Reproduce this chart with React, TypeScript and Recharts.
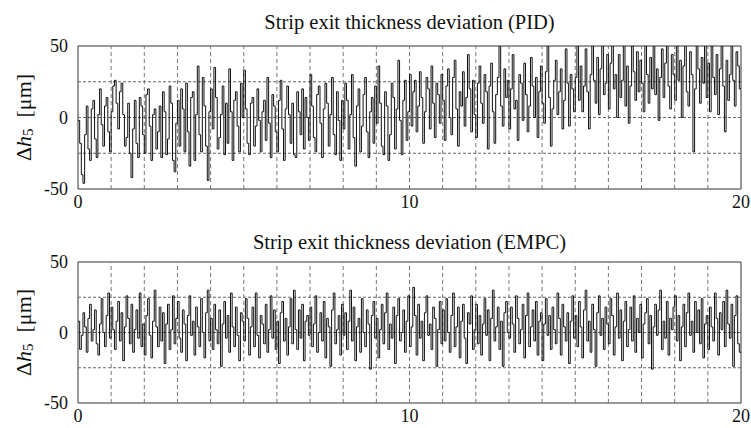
import { LineChart, Line, XAxis, YAxis, ReferenceLine, ReferenceArea } from "recharts";

// sample time of the recorded signal [s]
const DT = 0.05;

const xTicks = [0, 10, 20];
const yTicks = [-50, 0, 50];
const xGrid = [1, 2, 3, 4, 5, 6, 7, 8, 9, 10, 11, 12, 13, 14, 15, 16, 17, 18, 19];
const yGrid = [-25, 0, 25];

// PID, t = 0..5
const pidSeg1 = [
  -2, -18, -40, -46, -12, 8, -22, -30, 6, 12, -15, -28, 2, 20, -5, -20, 8, 14, -10, -24,
  4, 22, 26, 10, -8, 18, 24, 2, -20, -14, 10, -25, -42, -8, 12, -18, -28, 14, 8, -12,
  -25, 16, 20, -6, -30, 2, 6, -22, -10, 8, -28, 18, 4, -26, -15, 22, 10, -30, -38, -4,
  12, -20, 20, 6, -24, 24, -10, -34, 14, 18, -30, 2, 36, -12, -24, 28, 8, -20, -44, 4,
  20, -8, 35, 14, -22, -14, 2, 22, -26, 10, -18, 34, 4, -30, 12, 18, -6, -24, 24, 0,
];
// PID, t = 5..10
const pidSeg2 = [
  33, 6, -18, -26, 10, 14, -20, -6, 20, -2, -24, 4, 12, -16, 28, -4, -28, 16, 8, -10,
  -24, 12, 26, -8, -30, 6, 22, 2, -18, 10, -26, -28, 18, 4, -12, 20, -22, 14, 0, -16,
  30, 8, -14, -24, 16, 22, -4, -28, 6, 24, 10, -20, 2, 28, -12, -26, 18, -2, -30, 12,
  -8, 24, 12, -22, 2, 30, -14, -34, 8, 20, -24, -6, 16, 28, -10, -28, 4, 14, -18, 22,
  -4, 36, 10, -20, -26, 18, 8, -30, -12, 24, 14, -22, 6, 40, -2, -26, 12, 26, -16, 4,
];
// PID, t = 10..15
const pidSeg3 = [
  30, -6, 18, 26, -10, 8, 32, 14, -18, 4, 28, 20, -8, 36, 10, -14, 24, 16, -4, 30,
  12, -16, 22, 34, 0, -12, 28, 40, 6, -20, 18, 8, 32, -6, 14, 44, 20, -10, 26, 2,
  -14, 24, 36, 10, -4, 30, 18, -22, 22, 38, 4, -18, 16, 28, 54, 8, -6, 34, 14, 26,
  -8, 20, 44, 6, 12, -16, 30, 24, -2, 38, 16, -10, 8, 42, 22, 0, 28, -14, 18, 36,
  10, -4, 32, 56, 14, -20, 6, 26, 40, 2, 18, 34, -8, 12, 48, 24, -6, 30, 20, 4,
];
// PID, t = 15..20
const pidSeg4 = [
  28, 55, 12, 36, 4, 22, 48, 18, -8, 30, 60, 26, 10, 42, 2, 34, 52, 16, 24, 44,
  6, 38, 58, 20, 30, 0, 44, 14, 26, 56, 8, 36, -4, 22, 50, 32, 12, 46, 18, 40,
  24, 4, 54, 30, 10, 42, 20, 62, 16, 34, -2, 28, 48, 14, 38, 56, 22, 6, 44, 30,
  12, 52, 26, 40, 0, 36, 58, 18, 8, 46, 30, -24, 20, 54, 34, 10, 42, 24, 60, 14,
  38, 4, 50, 28, 16, 44, 2, 34, 56, 22, -10, 40, 12, 30, 52, 26, 8, 46, 36, 20, 20,
];

// EMPC, t = 0..5
const empcSeg1 = [
  8, -12, -2, 14, 4, -14, 10, 20, -6, 2, 16, -8, -16, 6, 24, 0, -10, 12, 28, -4,
  18, 2, -12, 8, 22, -6, 14, -20, 4, 26, 10, -8, 20, -14, 2, 16, -4, 28, -10, 6,
  -16, 12, 24, -2, -18, 8, 30, 4, -10, 18, -6, 14, -22, 6, 20, -12, 2, 26, -8, 10,
  22, -4, -14, 16, 6, -20, 12, 26, -2, 8, -16, 18, 4, -10, 24, 0, -18, 14, 30, -6,
  10, -12, 20, 2, -8, 16, -24, 6, 22, -4, 12, -14, 28, 4, -10, 18, -2, -20, 14, 8,
];
// EMPC, t = 5..10
const empcSeg2 = [
  -6, 24, 10, -16, 4, 18, -10, 28, -2, -18, 12, 6, -8, 20, -14, 2, 26, -4, 16, -12,
  8, -22, 14, 22, -6, 10, -16, 4, 24, -8, 30, 2, -12, 16, -4, 20, -20, 8, 12, -2,
  18, -10, 6, 26, -14, 0, 14, -6, 22, -18, 10, 4, -24, 16, 28, -8, 2, 12, -16, 20,
  -2, 14, -12, 8, 30, -6, 18, -20, 4, 10, -14, 24, 0, -10, 16, 6, -26, 12, 22, -4,
  10, -18, 2, 20, -8, 14, 28, -12, 6, -4, 18, -22, 12, 24, -6, 0, 16, -14, 8, 26,
];
// EMPC, t = 10..15
const empcSeg3 = [
  -10, 4, 32, 12, -16, 20, -4, 8, -20, 14, 26, -2, 6, -12, 18, 10, -24, 2, 22, -8,
  16, -6, 24, 0, -14, 12, 28, -10, 4, 18, -18, 8, 20, -4, -22, 14, 6, 26, -12, 2,
  20, -8, 12, -16, 6, 24, -2, 16, -20, 10, 30, -6, 4, 18, -12, 8, -24, 14, 22, 0,
  -4, 18, 6, -14, 26, 10, -8, 2, 20, -18, 12, 28, -10, 4, 16, -6, 22, -16, 8, 14,
  -20, 6, 24, -2, 12, -12, 18, 2, -8, 28, 10, -16, 20, 4, -6, 14, -22, 8, 26, -4,
];
// EMPC, t = 15..20
const empcSeg4 = [
  12, -10, 22, 4, -18, 16, 30, -6, 8, -14, 20, 2, -24, 14, 26, -2, 10, -12, 18, 6,
  -8, 24, 12, -16, 4, 28, -4, 16, -20, 8, 22, -10, 2, 18, -6, 26, -14, 10, 0, 20,
  -18, 6, 14, 24, -8, 12, -26, 4, 20, -2, 16, 30, -12, 8, -4, 22, -16, 10, 2, 18,
  26, -6, 12, -20, 4, 20, -10, 14, 28, -2, 8, -14, 22, 0, 16, -8, 24, -18, 6, 12,
  -12, 18, 4, -6, 28, 10, -16, 14, 2, 22, -10, 30, 6, -4, 20, -24, 12, 26, -8, -14, -14,
];

const pidData = [...pidSeg1, ...pidSeg2, ...pidSeg3, ...pidSeg4].map((v, i) => ({ t: +(i * DT).toFixed(2), v }));
const empcData = [...empcSeg1, ...empcSeg2, ...empcSeg3, ...empcSeg4].map((v, i) => ({ t: +(i * DT).toFixed(2), v }));

const FONT = "'Liberation Serif', 'Times New Roman', serif";
const tickStyle = { fontSize: 18, fill: "#111", fontFamily: FONT };

const YLabel = (props: any) => {
  const vb = props.viewBox;
  const cx = 23;
  const cy = vb.y + vb.height / 2;
  return (
    <text
      x={cx}
      y={cy}
      transform={`rotate(-90 ${cx} ${cy})`}
      textAnchor="middle"
      dominantBaseline="central"
      fontFamily={FONT}
      fontSize={22}
      fill="#111"
    >
      Δ<tspan fontStyle="italic">h</tspan>
      <tspan fontSize={15} dy={5}>5</tspan>
      <tspan dy={-5}>{"\u00a0\u00a0[μm]"}</tspan>
    </text>
  );
};

type PanelProps = {
  data: { t: number; v: number }[];
  top: number;
  height: number;
  marginTop: number;
  xAxisHeight: number;
  title: string;
  titleTop: number;
};

const Panel = ({ data, top, height, marginTop, xAxisHeight, title, titleTop }: PanelProps) => (
  <>
    <div
      style={{
        position: "absolute",
        top: titleTop,
        left: 78,
        width: 663,
        textAlign: "center",
        fontFamily: FONT,
        fontSize: 20.5,
        color: "#111",
        lineHeight: "22px",
      }}
    >
      {title}
    </div>
    <div style={{ position: "absolute", top, left: 0 }}>
      <LineChart width={751} height={height} data={data} margin={{ top: marginTop, right: 10, bottom: 0, left: 0 }}>
        <XAxis
          type="number"
          dataKey="t"
          domain={[0, 20]}
          ticks={xTicks}
          tickLine={false}
          axisLine={false}
          tick={tickStyle}
          tickSize={6}
          tickMargin={0}
          height={xAxisHeight}
          interval={0}
        />
        <YAxis
          type="number"
          domain={[-50, 50]}
          allowDataOverflow
          ticks={yTicks}
          tickLine={false}
          axisLine={false}
          tick={tickStyle}
          tickMargin={4}
          width={78}
          interval={0}
          label={<YLabel />}
        />
        {xGrid.map((x) => (
          <ReferenceLine key={`vx${x}`} x={x} stroke="#777" strokeDasharray="4 3" strokeWidth={1} />
        ))}
        {yGrid.map((y) => (
          <ReferenceLine key={`hy${y}`} y={y} stroke="#666" strokeDasharray="3 2" strokeWidth={1} />
        ))}
        <Line
          type="stepAfter"
          dataKey="v"
          stroke="#111"
          strokeWidth={1}
          dot={false}
          activeDot={false}
          isAnimationActive={false}
        />
        <ReferenceArea x1={0} x2={20} y1={-50} y2={50} fill="none" stroke="#333" strokeWidth={1} />
      </LineChart>
    </div>
  </>
);

export default function App() {
  return (
    <div style={{ position: "absolute", top: 0, left: 0, width: 751, height: 428, background: "#fff", overflow: "hidden" }}>
      <Panel
        data={pidData}
        top={0}
        height={214}
        marginTop={46}
        xAxisHeight={25}
        title="Strip exit thickness deviation (PID)"
        titleTop={11}
      />
      <Panel
        data={empcData}
        top={214}
        height={214}
        marginTop={48}
        xAxisHeight={25}
        title="Strip exit thickness deviation (EMPC)"
        titleTop={231}
      />
    </div>
  );
}
